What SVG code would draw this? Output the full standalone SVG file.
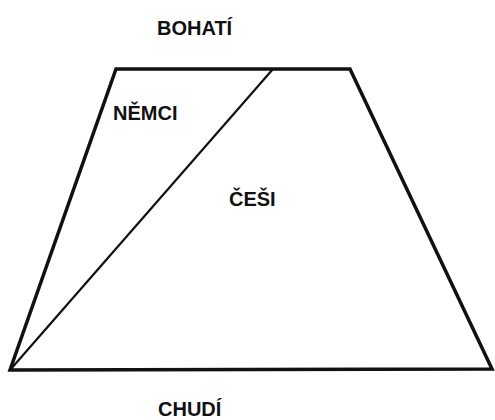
<svg xmlns="http://www.w3.org/2000/svg" width="495" height="420" viewBox="0 0 495 420">
<style>
.lbl{font-family:"Liberation Sans",Arial,sans-serif;font-weight:bold;font-size:20px;fill:#111}
.edge{fill:none;stroke:#111;stroke-linejoin:miter}
</style>
<rect width="495" height="420" fill="#fff"/>
<g id="trapezoid">
<polygon class="edge" points="116,69 350,69 492,369 10,370" stroke-width="3.5"/>
</g>
<g id="connectors">
<line class="edge" x1="10" y1="370" x2="273" y2="69" stroke-width="2.2"/>
</g>
<g id="bohati"><text class="lbl" x="157" y="35">BOHATÍ</text></g>
<g id="nemci"><text class="lbl" x="113" y="120">NĚMCI</text></g>
<g id="cesi"><text class="lbl" x="229" y="206">ČEŠI</text></g>
<g id="chudi"><text class="lbl" x="158" y="416">CHUDÍ</text></g>
</svg>
